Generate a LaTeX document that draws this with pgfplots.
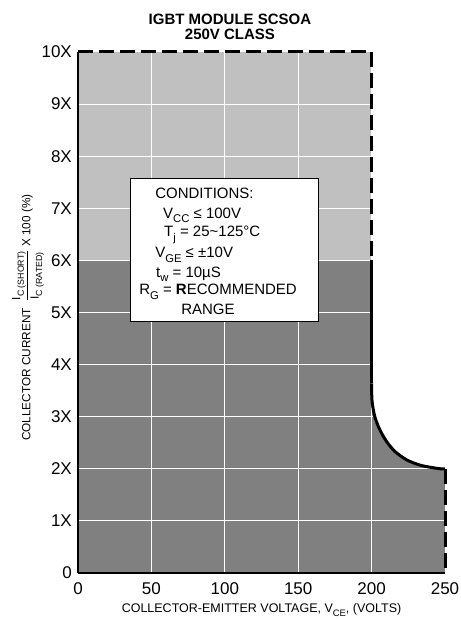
\documentclass[border=0pt]{standalone}
\usepackage{fontspec}
\usepackage{amsmath}
\usepackage{pgfplots}
\pgfplotsset{compat=1.18}
\setmainfont{Liberation Sans}
\definecolor{lightfill}{RGB}{192,192,192}
\definecolor{darkfill}{RGB}{128,128,128}
\newcommand\sub[1]{\raisebox{-0.3em}{\scalebox{0.75}{#1}}}

\begin{document}
\begin{tikzpicture}
\begin{axis}[
  set layers,
  scale only axis,
  width=367pt, height=521pt,
  xmin=0, xmax=250, ymin=0, ymax=10,
  xtick={0,50,100,150,200,250},
  ytick={0,1,2,3,4,5,6,7,8,9,10},
  yticklabels={0,1X,2X,3X,4X,5X,6X,7X,8X,9X,10X},
  grid=major,
  grid style={white, line width=1pt},
  axis x line*=bottom, axis y line*=left,
  axis line style={-, black, line width=1.5pt},
  major tick length=0pt,
  clip=false,
  /pgf/number format/assume math mode=true,
  tick label style={font=\fontsize{17}{20}\selectfont},
  xticklabel style={anchor=base, yshift=-22pt},
  yticklabel style={anchor=east, inner sep=0pt, xshift=-6pt},
  xlabel={COLLECTOR-EMITTER VOLTAGE, V\sub{CE}, (VOLTS)},
  x label style={at={(axis description cs:0.5,0)}, anchor=base, yshift=-40pt,
                 font=\fontsize{12.5}{15}\selectfont},
  ylabel={COLLECTOR CURRENT\ \ $\dfrac{\mbox{I\sub{C (SHORT)}}}{\mbox{I\sub{C (RATED)}}}$\ X 100 (\%)},
  y label style={at={(axis description cs:-0.136,0.49)}, anchor=center,
                 font=\fontsize{11.8}{14}\selectfont},
]
% shaded regions
\addplot[on layer=axis background, fill=lightfill, draw=none]
  coordinates {(0,6) (0,10) (200,10) (200,6)} -- cycle;
\addplot[on layer=axis background, fill=darkfill, draw=none]
  coordinates {(0,0) (0,6) (200,6) (200,3.64) (200.3,3.3) (202.2,3.0) (205.6,2.75)
               (210.3,2.52) (216,2.33) (224,2.17) (233,2.07) (242,2.02) (247,2.0)
               (250,2.0) (250,0)} -- cycle;

% boundary
\addplot[black, line width=3pt, dash pattern=on 15pt off 6pt]
  coordinates {(0,10) (200,10) (200,6)};
\addplot[black, line width=3pt]
  coordinates {(200,6) (200,3.64)};
\addplot[black, line width=3pt, smooth]
  coordinates {(200,3.64) (200.3,3.3) (202.2,3.0) (205.6,2.75) (210.3,2.52)
               (216,2.33) (224,2.17) (233,2.07) (242,2.02) (247,2.0) (250,2.0)};
\addplot[black, line width=3pt, dash pattern=on 15pt off 6pt]
  coordinates {(250,2) (250,0)};

% conditions box
\draw[black, line width=0.8pt, fill=white] (axis cs:35.4,4.82) rectangle (axis cs:163.5,7.58);
\begin{scope}[every node/.style={anchor=base west, inner sep=0pt, font=\fontsize{15}{18}\selectfont}]
\node at (axis cs:52.5,7.18) {CONDITIONS:};
\node at (axis cs:57.9,6.81) {V\sub{CC} ≤ 100V};
\node at (axis cs:58.6,6.45) {T\sub{j} = 25\textasciitilde125°C};
\node at (axis cs:52.5,6.05) {V\sub{GE} ≤ ±10V};
\node at (axis cs:53.1,5.68) {t\sub{w} = 10µS};
\node at (axis cs:41.6,5.34) {R\sub{G} = {\bfseries R}ECOMMENDED};
\node at (axis cs:70.2,4.97) {RANGE};
\end{scope}

% title
\node[anchor=base, inner sep=0pt, font=\fontsize{15}{18}\bfseries] at (rel axis cs:0.414,1) [yshift=27.5pt] {IGBT MODULE SCSOA};
\node[anchor=base, inner sep=0pt, font=\fontsize{15}{18}\bfseries] at (rel axis cs:0.414,1) [yshift=12pt] {250V CLASS};
\end{axis}
\pgfresetboundingbox
\path[use as bounding box] ([xshift=-78pt,yshift=-47pt]current axis.south west)
  rectangle ([xshift=15pt,yshift=52pt]current axis.north east);
\end{tikzpicture}
\end{document}
